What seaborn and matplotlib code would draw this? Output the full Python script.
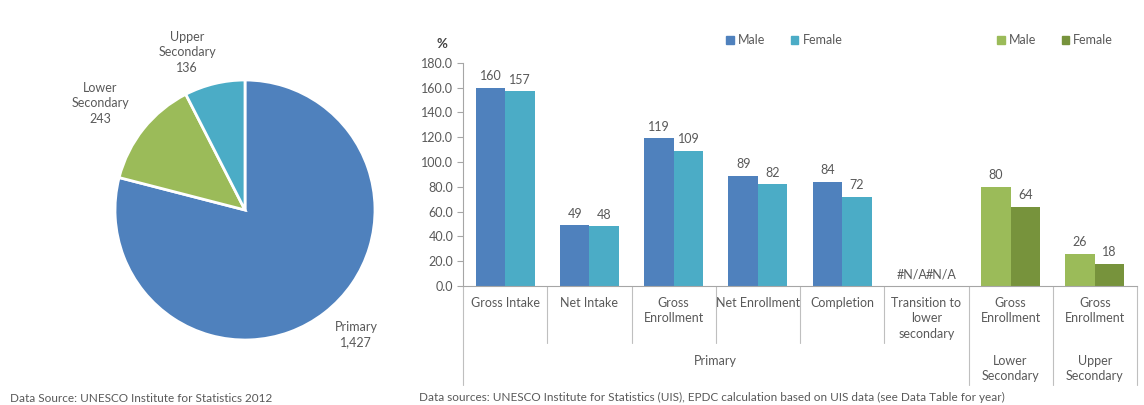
import numpy as np
import pandas as pd
import matplotlib
matplotlib.use("Agg")
import matplotlib.pyplot as plt
import seaborn as sns
from matplotlib.patches import Patch
from matplotlib.lines import Line2D
from matplotlib.transforms import blended_transform_factory

# ---------------- data ----------------
pie_labels = ["Primary", "Lower\nSecondary", "Upper\nSecondary"]
pie_values = [1427, 243, 136]
pie_colors = ["#4F81BD", "#9BBB59", "#4BACC6"]

indicators = ["Gross Intake", "Net Intake", "Gross\nEnrollment", "Net Enrollment",
              "Completion", "Transition to\nlower\nsecondary",
              "Gross\nEnrollment", "Gross\nEnrollment"]
levels = ["Primary"] * 6 + ["Lower\nSecondary", "Upper\nSecondary"]
male = [160, 49, 119, 89, 84, np.nan, 80, 26]
female = [157, 48, 109, 82, 72, np.nan, 64, 18]
yticks = [0, 20, 40, 60, 80, 100, 120, 140, 160, 180]

primary_palette = ["#4F81BD", "#4BACC6"]
secondary_palette = ["#9BBB59", "#77933C"]
TXT = "#595959"
AX = "#A6A6A6"

# ---------------- style ----------------
sns.set_theme(style="white")
plt.rcParams["font.family"] = ["Lato", "DejaVu Sans"]

fig = plt.figure(figsize=(11.44, 4.05), dpi=100)
W, H = 1144, 405

# ---------------- pie ----------------
cx, cy, r = 245, 210, 130
ax_pie = fig.add_axes([(cx - r) / W, (H - cy - r) / H, 2 * r / W, 2 * r / H])
ax_pie.pie(pie_values, colors=pie_colors, startangle=90, counterclock=False,
           wedgeprops=dict(edgecolor="white", linewidth=2))
ax_pie.set_xlim(-1, 1)
ax_pie.set_ylim(-1, 1)
ax_pie.set_aspect("equal")
ax_pie.axis("off")
pie_text_pos = [(0.854, -0.96), (-1.115, 0.823), (-0.446, 1.215)]
for lab, val, (px, py) in zip(pie_labels, pie_values, pie_text_pos):
    ax_pie.text(px, py, f"{lab}\n{val:,}", ha="center", va="center",
                multialignment="center", fontsize=9, color=TXT, linespacing=1.35)

fig.text(10 / W, 1 - 398 / H, "Data Source: UNESCO Institute for Statistics 2012",
         fontsize=8.5, color=TXT, ha="left", va="center")

# ---------------- bars ----------------
keys = [f"{l}|{i}|{n}" for n, (l, i) in enumerate(zip(levels, indicators))]
rows = []
for k, l, m, f in zip(keys, levels, male, female):
    rows.append(dict(key=k, level=l, sex="Male", value=m))
    rows.append(dict(key=k, level=l, sex="Female", value=f))
df = pd.DataFrame(rows)
df["plot_value"] = df["value"].fillna(0)

x0, x1, y0, y180 = 463, 1137, 286, 62.7
ax = fig.add_axes([x0 / W, (H - y0) / H, (x1 - x0) / W, (y0 - y180) / H])

prim = df[df["level"] == "Primary"]
sec = df[df["level"] != "Primary"]
sns.barplot(data=prim, x="key", y="plot_value", hue="sex", order=keys,
            hue_order=["Male", "Female"], palette=primary_palette, width=0.7,
            saturation=1, linewidth=0, legend=False, ax=ax)
sns.barplot(data=sec, x="key", y="plot_value", hue="sex", order=keys,
            hue_order=["Male", "Female"], palette=secondary_palette, width=0.7,
            saturation=1, linewidth=0, legend=False, ax=ax)

for cont in ax.containers:
    labels = []
    for bar in cont:
        cxb = bar.get_x() + bar.get_width() / 2
        idx = int(round(cxb))
        is_male = cxb < idx
        v = male[idx] if is_male else female[idx]
        labels.append("#N/A" if np.isnan(v) else f"{v:.0f}")
    ax.bar_label(cont, labels=labels, padding=4, fontsize=9, color=TXT)

ax.set_xlim(-0.5, len(keys) - 0.5)
ax.set_ylim(0, 180)
ax.set_yticks(yticks)
ax.set_yticklabels([f"{v:.1f}" for v in yticks])
ax.set_xticks([])
ax.set_xlabel("")
ax.set_ylabel("")
ax.tick_params(axis="y", left=True, length=4, width=0.8, color=AX,
               labelcolor=TXT, labelsize=9, pad=3)
for s in ["top", "right"]:
    ax.spines[s].set_visible(False)
for s in ["left", "bottom"]:
    ax.spines[s].set_color(AX)
    ax.spines[s].set_linewidth(0.8)

ax.text(-0.031, 1.084, "%", transform=ax.transAxes, ha="center", va="center",
        fontsize=9.5, color="#404040", fontweight="bold")

tr = blended_transform_factory(ax.transData, ax.transAxes)
axh = y0 - y180
short_y = -(343 - y0) / axh
long_y = -(385 - y0) / axh
lab1_y = -(297 - y0) / axh
lab2_y = -(355 - y0) / axh

# separators
for b in np.arange(-0.5, len(keys)):
    prev_lvl = levels[int(b - 0.5)] if b > 0 else None
    next_lvl = levels[int(b + 0.5)] if b + 0.5 < len(keys) else None
    ylow = short_y if (prev_lvl is not None and next_lvl is not None and prev_lvl == next_lvl) else long_y
    ax.add_line(Line2D([b, b], [0, ylow], transform=tr, color="#BFBFBF",
                       linewidth=0.8, clip_on=False))

for i, name in enumerate(indicators):
    ax.text(i, lab1_y, name, transform=tr, ha="center", va="top",
            multialignment="center", fontsize=9, color=TXT, linespacing=1.35)

seen = []
for lvl in levels:
    if lvl not in seen:
        seen.append(lvl)
for lvl in seen:
    idxs = [i for i, l in enumerate(levels) if l == lvl]
    xc = (idxs[0] + idxs[-1]) / 2
    ax.text(xc, lab2_y, lvl, transform=tr, ha="center", va="top",
            multialignment="center", fontsize=9, color=TXT, linespacing=1.35)

# legends
h1 = [Patch(color=c) for c in primary_palette]
h2 = [Patch(color=c) for c in secondary_palette]
leg_kw = dict(ncol=2, frameon=False, fontsize=9, labelcolor=TXT, handlelength=0.6,
              handleheight=0.6, handletextpad=0.35, columnspacing=2.0,
              loc="center left", bbox_transform=fig.transFigure)
leg1 = ax.legend(h1, ["Male", "Female"], bbox_to_anchor=(715 / W, 1 - 40 / H), **leg_kw)
ax.add_artist(leg1)
leg2 = ax.legend(h2, ["Male", "Female"], bbox_to_anchor=(986 / W, 1 - 40 / H), **leg_kw)

fig.text(419 / W, 1 - 397 / H,
         "Data sources: UNESCO Institute for Statistics (UIS), EPDC calculation based on UIS data (see Data Table for year)",
         fontsize=8.5, color=TXT, ha="left", va="center")

fig.savefig("out.png", dpi=100, facecolor="white")
